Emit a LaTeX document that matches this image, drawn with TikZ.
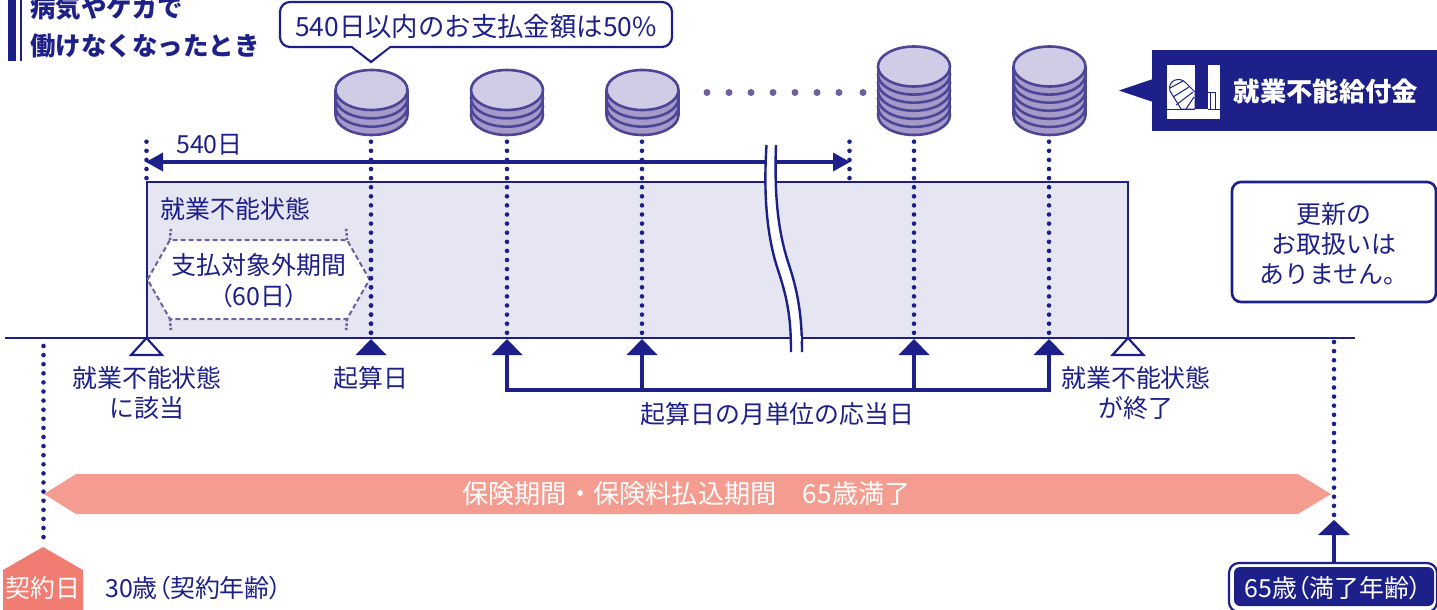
\documentclass[tikz,border=0pt]{standalone}
\usepackage{fontspec}
\setmainfont{Noto Sans CJK JP}
\newfontfamily\cjkp[RawFeature=+palt]{Noto Sans CJK JP}
\usetikzlibrary{calc}
\definecolor{navy}{HTML}{1D2088}
\definecolor{band}{HTML}{E6E5F2}
\definecolor{cointop}{HTML}{D0CCE6}
\definecolor{coinside}{HTML}{A59AC9}
\definecolor{coinline}{HTML}{4D4596}
\definecolor{pinkbar}{HTML}{F49C8F}
\definecolor{pinkhome}{HTML}{F07C72}
\definecolor{hexline}{HTML}{6F5FA0}
\tikzset{
  lbl/.style={text=navy,font=\fontsize{24.9}{30}\selectfont,align=center,inner sep=0pt},
  dotline/.style={navy,line width=4.6pt,line cap=round,dash pattern=on 0pt off 9.1pt},
  solidtri/.style={fill=navy,draw=none},
  opentri/.style={fill=white,draw=navy,line width=2.2pt},
  conn/.style={navy,line width=3.4pt},
  coinstroke/.style={draw=coinline,line width=2.6pt},
}
\newcommand{\coinstack}[4]{% x, top-ellipse centre y, layers below, step
  \foreach \k in {#3,...,1}{
    \filldraw[fill=coinside,coinstroke] (#1,#2+\k*#4) ellipse [x radius=36,y radius=20];
    \fill[coinside] (#1-35,#2+\k*#4-#4) rectangle (#1+35,#2+\k*#4);
    \draw[coinstroke] (#1-36,#2+\k*#4-#4) -- (#1-36,#2+\k*#4) (#1+36,#2+\k*#4-#4) -- (#1+36,#2+\k*#4);
  }
  \filldraw[fill=cointop,coinstroke] (#1,#2) ellipse [x radius=36,y radius=20];
}
\begin{document}
\begin{tikzpicture}[x=1pt,y=-1pt]
\useasboundingbox (0,0) rectangle (1437,610);
% key coordinates
\coordinate (L0) at (146.5,338);
\coordinate (D1) at (371,338);
\coordinate (D2) at (507,338);
\coordinate (D3) at (642,338);
\coordinate (D4) at (914,338);
\coordinate (D5) at (1049,338);
\coordinate (E0) at (1128,338);
% band
\filldraw[fill=band,draw=navy,line width=2.2pt] (147,182) rectangle (1128,338);
% title
\fill[navy] (8,-1) rectangle (16,61);
\fill[navy] (19.5,-1) rectangle (21.5,61);
\node[lbl,anchor=west,font=\fontsize{25.5}{30}\selectfont\bfseries] (t1) at (30,8) {病気やケガで};
\node[lbl,anchor=west,font=\fontsize{25.5}{30}\selectfont\bfseries] (t2) at (30,46) {働けなくなったとき};
% coins
\coinstack{371.5}{90}{3}{8.33}
\coinstack{507}{90}{3}{8.33}
\coinstack{642.5}{90}{3}{8.33}
\coinstack{914}{66.5}{6}{8.08}
\coinstack{1049.5}{66.5}{6}{8.08}
% dots between
\foreach \x in {707,729,751,773,795,817,839,863}
  \fill[hexline] (\x,92.5) circle (3.5);
% dotted verticals
\coordinate (a0) at (146.5,141.7); \coordinate (a0b) at (146.5,180);
\coordinate (a9) at (849.5,141.7); \coordinate (a9b) at (849.5,180);
\draw[dotline] (a0) -- (a0b);
\draw[dotline] (a9) -- (a9b);
\foreach \n/\x in {D1/371,D2/507,D3/642,D4/914,D5/1049}
  \draw[dotline] (\x,141.7) -- (\n);
% 540 arrow
\draw[conn] (160,162) -- (836,162);
\fill[navy] (146,162) -- (163,152.5) -- (163,171.5) -- cycle;
\fill[navy] (850,162) -- (833,152.5) -- (833,171.5) -- cycle;
\node[lbl] (d540) at (209.5,145) {540日};
% break
\path[fill=white] (766.5,145) .. controls (763,200) and (768,240) .. (778,270) .. controls (788,300) and (791,320) .. (791,352)
  -- (802,352) .. controls (802,320) and (799,295) .. (789,265) .. controls (779,235) and (774,200) .. (776,145) -- cycle;
\draw[navy,line width=2.4pt] (766.5,145) .. controls (763,200) and (768,240) .. (778,270) .. controls (788,300) and (791,320) .. (791,352);
\draw[navy,line width=2.4pt] (776,145) .. controls (774,200) and (779,235) .. (789,265) .. controls (799,295) and (802,320) .. (802,352);
% baseline
\draw[navy,line width=2.8pt] (5,338) -- (1355,338);
% redraw break over baseline
\fill[white] (792.3,336) rectangle (800.7,341);
% callout
\filldraw[fill=white,draw=navy,line width=2.2pt,rounded corners=10pt] (352,47) -- (280,47) -- (280,2) -- (672,2) -- (672,47) -- (390,47);
\draw[navy,line width=2.2pt,line join=miter] (352,47) -- (371,62) -- (390,47);
\fill[white] (353.5,45) -- (388.5,45) -- (388.5,47) -- (371,60) -- (353.5,47) -- cycle;
\node[lbl,font=\fontsize{26.4}{30}\selectfont] (c1) at (476,26) {540日以内のお支払金額は50\%};
% badge
\fill[navy] (1152,50) rectangle (1437,131);
\fill[navy] (1119,90.5) -- (1153,79) -- (1153,102) -- cycle;
\fill[white] (1167,65) rectangle (1220,118.5);
\fill[navy] (1195,65) rectangle (1208,109);
\draw[navy,line width=1pt] (1208,92) -- (1216,92) (1210,92) -- (1210,109) (1215,92) -- (1215,109) (1167,109.5) -- (1195,109.5) (1208,109.5) -- (1220,109.5);
\begin{scope}
\clip (1167,65) rectangle (1195,109);
\draw[navy,line width=1pt] (1170,91) .. controls (1167,80) and (1180,76) .. (1186,83) -- (1195,92) -- (1195,109) -- (1181,109) -- cycle;
\draw[navy,line width=1pt] (1170,88) -- (1183,81) (1173,97) -- (1189,87) (1176,105) -- (1193,92) (1186,109) -- (1194,97);
\end{scope}
\node[lbl,text=white,font=\fontsize{26.3}{30}\selectfont\bfseries] (b1) at (1326,91) {就業不能給付金};
% inner band texts
\node[lbl] (s1) at (235.5,209) {就業不能状態};
\filldraw[fill=white,draw=hexline,line width=2pt,dash pattern=on 5pt off 3pt] (147.5,279.5) -- (170,240) -- (347,240) -- (369.5,279.5) -- (347,319) -- (170,319) -- cycle;
\draw[hexline,line width=2.6pt,dash pattern=on 2.4pt off 2pt] (170,240) -- (171,227);
\draw[hexline,line width=2.6pt,dash pattern=on 2.4pt off 2pt] (347,240) -- (346,227);
\draw[hexline,line width=2.6pt,dash pattern=on 2.4pt off 2pt] (170,319) -- (171,332);
\draw[hexline,line width=2.6pt,dash pattern=on 2.4pt off 2pt] (347,319) -- (346,332);
\node[lbl] (h1) at (259,265) {支払対象外期間};
\node[lbl] (h2) at (259,296) {\cjkp （60日）};
\draw[dotline] (371,241.8) -- (371,338);
% triangles
\filldraw[opentri] (L0) -- ++(-15.5,17) -- ++(31,0) -- cycle;
\filldraw[opentri] (E0) -- ++(-15.5,17) -- ++(31,0) -- cycle;
\foreach \n in {D1,D2,D3,D4,D5}
  \fill[solidtri] (\n) ++(0,1) -- ++(-15.5,16) -- ++(31,0) -- cycle;
% bracket
\draw[conn,line join=miter] (507,354) -- (507,390) -- (1049,390) -- (1049,354);
\draw[conn] (642,354) -- (642,390);
\draw[conn] (914,354) -- (914,390);
% labels
\node[lbl] (l1) at (147,378) {就業不能状態};
\node[lbl] (l2) at (147,408) {に該当};
\node[lbl] (l3) at (371,378) {起算日};
\node[lbl] (l4) at (777.5,414) {起算日の月単位の応当日};
\node[lbl] (l5) at (1136,378) {就業不能状態};
\node[lbl] (l6) at (1136,408) {が終了};
% update box
\filldraw[fill=white,draw=navy,line width=2.6pt,rounded corners=9pt] (1232,182) rectangle (1436,302);
\node[lbl] (u1) at (1334,214) {更新の};
\node[lbl] (u2) at (1334,244) {お取扱いは};
\node[lbl] (u3) at (1334,274) {ありません。};
% coverage bar
\fill[pinkbar] (44,494) -- (76,474) -- (1298,474) -- (1331,494) -- (1298,514) -- (76,514) -- cycle;
\node[lbl,text=white,font=\fontsize{26.2}{30}\selectfont] (p1) at (686.5,494) {保険期間・保険料払込期間　65歳満了};
% contract
\coordinate (k1) at (43.5,346);
\coordinate (k2) at (43.5,542);
\draw[dotline] (k1) -- (k2);
\fill[pinkhome] (43,547) -- (83,570) -- (83,611) -- (3,611) -- (3,570) -- cycle;
\node[lbl,text=white] (k3) at (43,588) {契約日};
\node[lbl,anchor=west,font=\fontsize{24.9}{30}\selectfont\cjkp] (k4) at (105,588) {30歳（契約年齢）};
% end
\coordinate (m1) at (1334,342);
\coordinate (m2) at (1334,515);
\draw[dotline] (m1) -- (m2);
\fill[navy] (1334,520) -- (1350,535) -- (1318,535) -- cycle;
\draw[conn] (1334,534) -- (1334,563);
\filldraw[fill=white,draw=navy,line width=2.2pt,rounded corners=10pt] (1229,563) rectangle (1437,612);
\fill[navy,rounded corners=6pt] (1234,567) rectangle (1434,606);
\node[lbl,text=white,font=\fontsize{24.9}{30}\selectfont\cjkp] (m3) at (1333,588) {65歳（満了年齢）};
\end{tikzpicture}
\end{document}
